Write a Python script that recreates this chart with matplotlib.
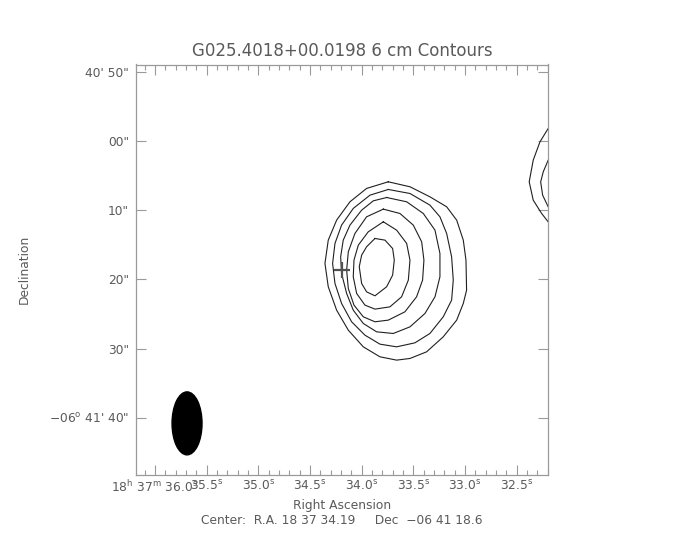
import matplotlib
matplotlib.use('Agg')
import matplotlib.pyplot as plt
from matplotlib.patches import Ellipse
import numpy as np

# RA in seconds of 18h37m, Dec in arcsec south of -06d40'00"
center_ra = 34.19
center_dec = 78.6
half_width = 1.994     # s of RA
half_height = 29.66    # arcsec

ra_ticks = [36.0, 35.5, 35.0, 34.5, 34.0, 33.5, 33.0, 32.5]
ra_labels = [r'18$^{\rm h}$ 37$^{\rm m}$ 36.0$^{\rm s}$', r'35.5$^{\rm s}$', r'35.0$^{\rm s}$',
             r'34.5$^{\rm s}$', r'34.0$^{\rm s}$', r'33.5$^{\rm s}$', r'33.0$^{\rm s}$', r'32.5$^{\rm s}$']
dec_ticks = [50, 60, 70, 80, 90, 100]
dec_labels = ['40\' 50"', '00"', '10"', '20"', '30"', '\u221206$^{\\rm o}$ 41\' 40"']

# contour outlines (RA s, Dec arcsec), outermost first
c1_ra = [33.742, 33.532, 33.339, 33.177, 33.080, 33.016, 32.990, 32.984, 33.016, 33.080, 33.210, 33.371,
         33.532, 33.661, 33.823, 33.984, 34.129, 34.242, 34.323, 34.355, 34.323, 34.242, 34.113, 33.952]
c1_dec = [65.89, 66.61, 68.06, 69.50, 71.43, 74.32, 77.21, 81.55, 83.47, 85.88, 88.29, 90.46,
          91.42, 91.66, 91.18, 89.74, 87.33, 84.44, 81.06, 77.69, 74.32, 71.43, 68.78, 66.85]
c2_ra = [33.742, 33.532, 33.339, 33.242, 33.177, 33.129, 33.113, 33.129, 33.210, 33.339, 33.484,
         33.661, 33.823, 33.968, 34.097, 34.194, 34.258, 34.281, 34.258, 34.194, 34.081, 33.919]
c2_dec = [67.00, 67.58, 69.26, 70.95, 73.36, 76.73, 80.10, 82.99, 85.40, 87.81, 89.16,
          89.74, 89.35, 88.05, 86.12, 83.47, 80.58, 77.69, 74.80, 72.15, 69.74, 67.82]
c3_ra = [33.758, 33.564, 33.403, 33.290, 33.242, 33.242, 33.290, 33.387, 33.532, 33.694,
         33.855, 33.984, 34.081, 34.145, 34.194, 34.203, 34.178, 34.113, 34.000, 33.887]
c3_dec = [68.16, 68.78, 70.47, 72.88, 76.25, 79.62, 82.51, 84.92, 86.85, 87.81,
          87.57, 86.36, 84.44, 82.03, 79.14, 76.73, 74.32, 72.15, 69.99, 68.64]
c4_ra = [33.790, 33.629, 33.500, 33.419, 33.397, 33.410, 33.468, 33.581, 33.742,
         33.871, 33.984, 34.074, 34.129, 34.145, 34.129, 34.065, 33.952]
c4_dec = [69.84, 70.47, 72.15, 74.56, 77.21, 80.10, 82.51, 84.68, 85.88,
          86.12, 85.40, 83.71, 81.31, 78.66, 76.01, 73.36, 70.95]
c5_ra = [33.790, 33.661, 33.564, 33.532, 33.548, 33.613, 33.726, 33.871, 33.968,
         34.048, 34.081, 34.074, 34.032, 33.936]
c5_dec = [71.67, 72.88, 74.80, 77.21, 80.10, 82.51, 83.96, 84.29, 83.71,
          82.03, 79.62, 77.21, 75.04, 73.12]
c6_ra = [33.871, 33.774, 33.700, 33.684, 33.700, 33.758, 33.871, 33.952, 34.000, 34.023, 34.000, 33.952]
c6_dec = [74.08, 74.32, 75.53, 77.21, 79.38, 81.06, 82.37, 81.79, 80.58, 78.17, 76.49, 75.28]
closed = [(c1_ra, c1_dec), (c2_ra, c2_dec), (c3_ra, c3_dec), (c4_ra, c4_dec), (c5_ra, c5_dec), (c6_ra, c6_dec)]

# neighbouring source cut by the right edge
e1_ra = [32.15, 32.194, 32.274, 32.339, 32.378, 32.339, 32.258, 32.194, 32.15]
e1_dec = [57.6, 58.18, 60.12, 62.76, 65.90, 68.54, 70.46, 71.68, 72.2]
e2_ra = [32.15, 32.194, 32.242, 32.267, 32.248, 32.194, 32.15]
e2_dec = [62.2, 62.76, 64.45, 65.90, 67.82, 69.51, 70.1]

beam_ra, beam_dec = 35.69, 100.8
beam_w, beam_h = 0.29, 9.1

axcol = '#9a9a9a'
txtcol = '#5a5a5a'

fig = plt.figure(figsize=(6.84, 5.4), dpi=100)
ax = fig.add_axes([136 / 684, 65 / 540, 412 / 684, 410.5 / 540])

for xs, ys in closed:
    ax.plot(xs + xs[:1], ys + ys[:1], color='#202020', lw=0.8)
for xs, ys in [(e1_ra, e1_dec), (e2_ra, e2_dec)]:
    ax.plot(xs, ys, color='#202020', lw=0.8)

ax.add_patch(Ellipse((beam_ra, beam_dec), beam_w, beam_h, color='black'))
ax.plot(center_ra, center_dec, marker='+', ms=11, mew=1.6, color='#505050')

ax.set_xlim(center_ra + half_width, center_ra - half_width)
ax.set_ylim(center_dec + half_height, center_dec - half_height)

ax.set_xticks(ra_ticks, ra_labels, fontsize=8.8, color=txtcol)
ax.set_xticks(np.arange(32.2, 36.15, 0.1), minor=True)
ax.set_yticks(dec_ticks, dec_labels, fontsize=8.8, color=txtcol)
ax.tick_params(axis='x', which='major', direction='in', length=7, width=0.8, color=axcol, top=True, pad=3)
ax.tick_params(axis='x', which='minor', direction='in', length=3.5, width=0.8, color=axcol, top=True)
ax.tick_params(axis='y', which='major', direction='in', length=7, width=0.8, color=axcol, right=True, pad=5)
for s in ax.spines.values():
    s.set_color(axcol)
    s.set_linewidth(0.9)

ax.set_title('G025.4018+00.0198 6 cm Contours', fontsize=12, color=txtcol, pad=6)
ax.set_xlabel('Right Ascension', fontsize=8.8, color=txtcol, labelpad=3)
ax.set_ylabel('Declination', fontsize=8.8, color=txtcol)
ax.yaxis.set_label_coords(-0.255, 0.5)
fig.text(342 / 684, 1 - 521 / 540, 'Center:  R.A. 18 37 34.19     Dec  \u221206 41 18.6',
         ha='center', va='center', fontsize=8.8, color=txtcol)

fig.savefig('out.png', dpi=100)
